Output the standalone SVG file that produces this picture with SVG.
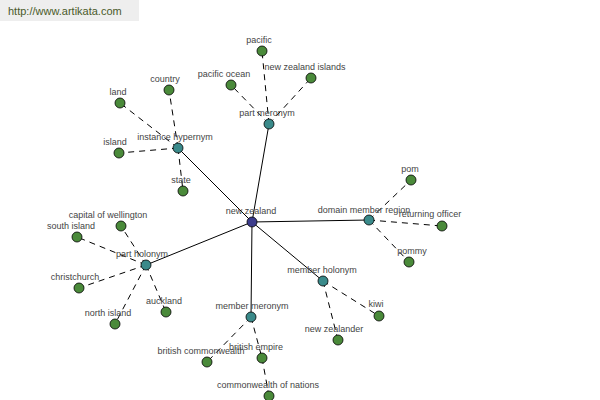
<svg xmlns="http://www.w3.org/2000/svg" width="600" height="400" viewBox="0 0 600 400">
<style>
.s{stroke:#000;stroke-width:1;fill:none}
.d{stroke:#000;stroke-width:1;stroke-dasharray:6,5;fill:none}
.c{fill:#3c3c8c;stroke:#000;stroke-width:0.8}
.m{fill:#3a8a8a;stroke:#000;stroke-width:0.8}
.l{fill:#4a8a3a;stroke:#000;stroke-width:0.8}
text{font-family:"Liberation Sans",Arial,sans-serif;font-size:9px;fill:#444;text-anchor:middle}
</style>
<rect x="0" y="0" width="139" height="21" fill="#eeeeee"/>
<text x="8" y="15" style="font-size:11px;fill:#4a5a2a;text-anchor:start">http://www.artikata.com</text>
<g id="connectors">
<line class="s" x1="252" y1="222" x2="269" y2="124"/>
<line class="s" x1="252" y1="222" x2="178" y2="148"/>
<line class="s" x1="252" y1="222" x2="369" y2="220"/>
<line class="s" x1="252" y1="222" x2="146" y2="265"/>
<line class="s" x1="252" y1="222" x2="323" y2="281"/>
<line class="s" x1="252" y1="222" x2="251" y2="317"/>
<line class="d" x1="269" y1="124" x2="262" y2="51"/>
<line class="d" x1="269" y1="124" x2="231" y2="85"/>
<line class="d" x1="269" y1="124" x2="311" y2="78"/>
<line class="d" x1="178" y1="148" x2="169" y2="90"/>
<line class="d" x1="178" y1="148" x2="120" y2="103"/>
<line class="d" x1="178" y1="148" x2="119" y2="153"/>
<line class="d" x1="178" y1="148" x2="183" y2="191"/>
<line class="d" x1="369" y1="220" x2="411" y2="180"/>
<line class="d" x1="369" y1="220" x2="442" y2="226"/>
<line class="d" x1="369" y1="220" x2="409" y2="262"/>
<line class="d" x1="146" y1="265" x2="121" y2="226"/>
<line class="d" x1="146" y1="265" x2="77" y2="237"/>
<line class="d" x1="146" y1="265" x2="79" y2="288"/>
<line class="d" x1="146" y1="265" x2="115" y2="324"/>
<line class="d" x1="146" y1="265" x2="166" y2="312"/>
<line class="d" x1="323" y1="281" x2="379" y2="316"/>
<line class="d" x1="323" y1="281" x2="338" y2="340"/>
<line class="d" x1="251" y1="317" x2="207" y2="362"/>
<line class="d" x1="251" y1="317" x2="262" y2="358"/>
<line class="d" x1="262" y1="358" x2="269" y2="396"/>
</g>
<g id="n-new-zealand"><circle class="c" cx="252" cy="222" r="5"/><text x="251" y="214">new zealand</text></g>
<g id="n-part-meronym"><circle class="m" cx="269" cy="124" r="5"/><text x="267" y="116">part meronym</text></g>
<g id="n-pacific"><circle class="l" cx="262" cy="51" r="5"/><text x="259" y="43">pacific</text></g>
<g id="n-pacific-ocean"><circle class="l" cx="231" cy="85" r="5"/><text x="224" y="77">pacific ocean</text></g>
<g id="n-nz-islands"><circle class="l" cx="311" cy="78" r="5"/><text x="305" y="70">new zealand islands</text></g>
<g id="n-instance-hypernym"><circle class="m" cx="178" cy="148" r="5"/><text x="175" y="140">instance hypernym</text></g>
<g id="n-country"><circle class="l" cx="169" cy="90" r="5"/><text x="165" y="82">country</text></g>
<g id="n-land"><circle class="l" cx="120" cy="103" r="5"/><text x="118" y="95">land</text></g>
<g id="n-island"><circle class="l" cx="119" cy="153" r="5"/><text x="115" y="145">island</text></g>
<g id="n-state"><circle class="l" cx="183" cy="191" r="5"/><text x="181" y="183">state</text></g>
<g id="n-domain-member-region"><circle class="m" cx="369" cy="220" r="5"/><text x="364" y="213">domain member region</text></g>
<g id="n-pom"><circle class="l" cx="411" cy="180" r="5"/><text x="410" y="172">pom</text></g>
<g id="n-returning-officer"><circle class="l" cx="442" cy="226" r="5"/><text x="430" y="217">returning officer</text></g>
<g id="n-pommy"><circle class="l" cx="409" cy="262" r="5"/><text x="412" y="254">pommy</text></g>
<g id="n-part-holonym"><circle class="m" cx="146" cy="265" r="5"/><text x="142" y="257">part holonym</text></g>
<g id="n-capital-of-wellington"><circle class="l" cx="121" cy="226" r="5"/><text x="108" y="218">capital of wellington</text></g>
<g id="n-south-island"><circle class="l" cx="77" cy="237" r="5"/><text x="71" y="229">south island</text></g>
<g id="n-christchurch"><circle class="l" cx="79" cy="288" r="5"/><text x="75" y="280">christchurch</text></g>
<g id="n-north-island"><circle class="l" cx="115" cy="324" r="5"/><text x="108" y="316">north island</text></g>
<g id="n-auckland"><circle class="l" cx="166" cy="312" r="5"/><text x="164" y="304">auckland</text></g>
<g id="n-member-holonym"><circle class="m" cx="323" cy="281" r="5"/><text x="322" y="273">member holonym</text></g>
<g id="n-kiwi"><circle class="l" cx="379" cy="316" r="5"/><text x="376" y="307">kiwi</text></g>
<g id="n-new-zealander"><circle class="l" cx="338" cy="340" r="5"/><text x="334" y="332">new zealander</text></g>
<g id="n-member-meronym"><circle class="m" cx="251" cy="317" r="5"/><text x="252" y="309">member meronym</text></g>
<g id="n-british-commonwealth"><circle class="l" cx="207" cy="362" r="5"/><text x="201" y="354">british commonwealth</text></g>
<g id="n-british-empire"><circle class="l" cx="262" cy="358" r="5"/><text x="256" y="350">british empire</text></g>
<g id="n-commonwealth-of-nations"><circle class="l" cx="269" cy="396" r="5"/><text x="268" y="388">commonwealth of nations</text></g>
</svg>
